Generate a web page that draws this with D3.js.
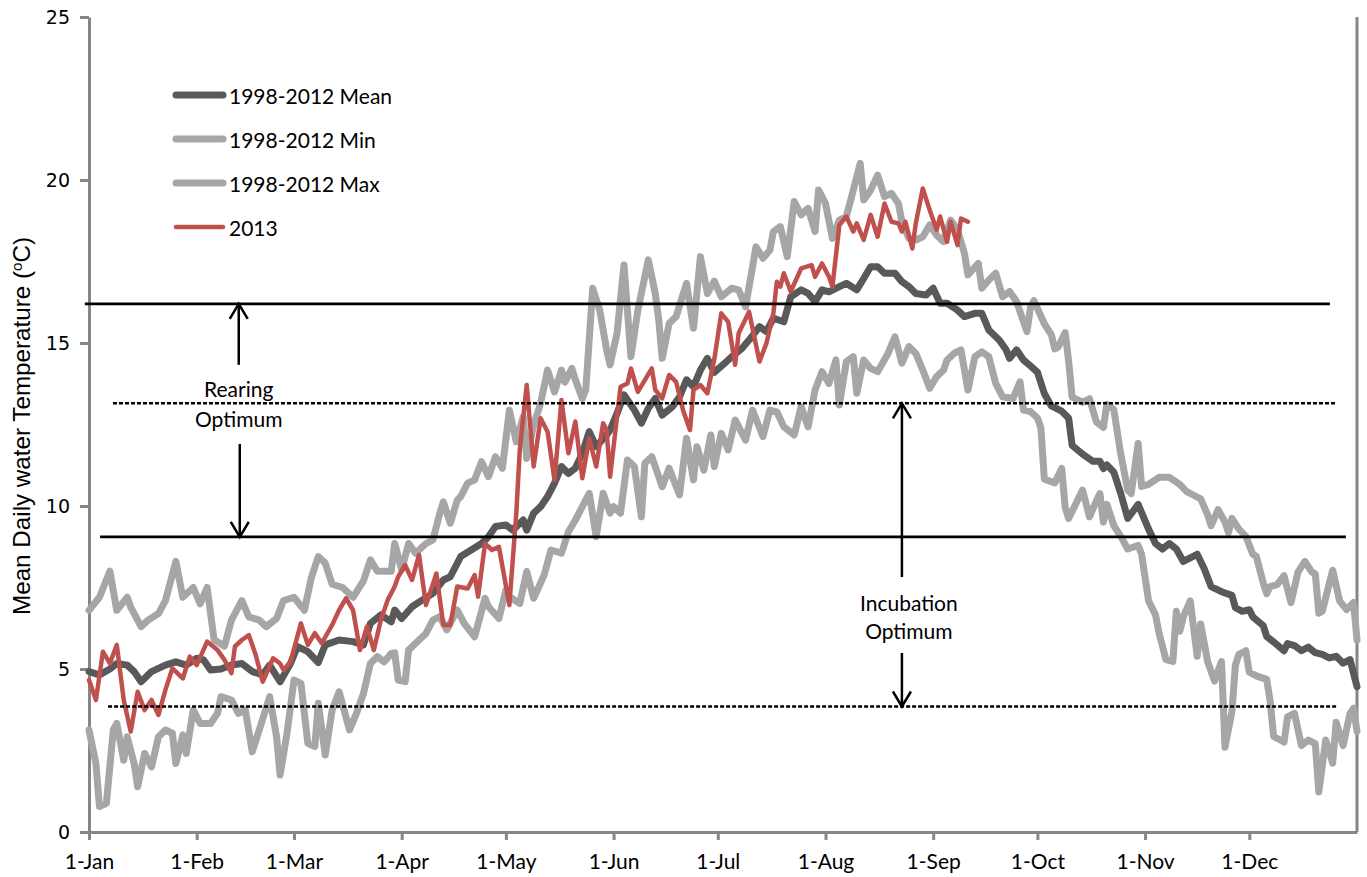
<!DOCTYPE html>
<html>
<head>
<meta charset="utf-8">
<script src="https://cdn.jsdelivr.net/npm/d3@7"></script>
<style>
  body { margin: 0; background: #fff; }
  svg { display: block; }
</style>
</head>
<body>
<svg id="chart" width="1367" height="877"></svg>
<script>
// Day-of-year positions of month starts and their labels
const monthDays = [0, 31, 59, 90, 120, 151, 181, 212, 243, 273, 304, 334];
const monthLabels = ["1-Jan", "1-Feb", "1-Mar", "1-Apr", "1-May", "1-Jun",
                     "1-Jul", "1-Aug", "1-Sep", "1-Oct", "1-Nov", "1-Dec"];
const tempTicks = [0, 5, 10, 15, 20, 25];

// Daily water temperature, [day of year, °C]
const mean9812 = [
  [0,4.92],[3,4.82],[6,5.0],[8,5.17],[11,5.12],[13,4.92],[15,4.61],[18,4.92],[22,5.12],[25,5.22],
  [28,5.12],[31,5.33],[33,5.28],[35,4.97],[38,5.0],[41,5.12],[44,5.17],[47,4.92],[50,4.82],[52,5.12],
  [55,4.61],[58,5.17],[60,5.69],[63,5.53],[66,5.2],[68,5.74],[72,5.89],[76,5.84],[79,5.74],[81,6.4],
  [84,6.66],[87,6.45],[88,6.81],[90,6.55],[93,6.91],[96,7.12],[99,7.32],[102,7.73],[104,7.83],[107,8.45],
  [110,8.65],[113,8.85],[115,9.06],[117,9.37],[120,9.42],[122,9.26],[125,9.57],[126,9.26],[128,9.78],[130,9.98],
  [132,10.29],[134,10.7],[136,11.21],[138,11.0],[140,11.16],[142,11.62],[144,12.28],[146,11.82],[149,12.18],[150,12.33],
  [152,12.84],[154,13.41],[157,12.94],[159,12.54],[161,13.0],[163,13.3],[165,12.79],[168,13.05],[170,13.35],[172,13.87],
  [174,13.66],[176,14.17],[178,14.53],[180,14.1],[183,14.38],[185,14.58],[188,14.84],[190,15.09],[193,15.5],[195,15.35],
  [197,15.76],[200,15.65],[202,16.42],[205,16.63],[207,16.52],[209,16.27],[211,16.63],[213,16.57],[216,16.73],[218,16.83],
  [221,16.63],[223,16.98],[225,17.34],[227,17.34],[229,17.14],[232,17.14],[234,16.88],[236,16.73],[238,16.52],[241,16.47],
  [243,16.68],[245,16.22],[247,16.22],[250,16.01],[252,15.81],[255,15.91],[257,15.91],[259,15.4],[262,15.09],[264,14.79],
  [265,14.53],[267,14.79],[269,14.48],[271,14.3],[273,14.11],[275,13.45],[277,13.07],[280,12.91],[282,12.69],[283,11.86],
  [286,11.59],[289,11.37],[291,11.37],[292,11.15],[293,11.26],[295,11.04],[297,10.38],[299,9.62],[302,10.05],[305,9.29],
  [307,8.85],[309,8.68],[311,8.85],[313,8.68],[315,8.3],[317,8.41],[319,8.52],[321,8.08],[323,7.53],[326,7.37],
  [329,7.26],[330,6.88],[332,6.77],[334,6.82],[335,6.6],[338,6.33],[339,6.0],[341,5.83],[344,5.56],[345,5.78],
  [347,5.72],[349,5.56],[351,5.67],[353,5.5],[355,5.45],[357,5.34],[359,5.39],[361,5.18],[363,5.29],[365,4.46]
];

const min9812 = [
  [0,3.13],[2,2.1],[3,0.78],[5,0.88],[7,3.13],[8,3.33],[10,2.2],[11,2.92],[13,2.1],[14,1.39],
  [16,2.41],[18,2.0],[20,2.92],[22,3.13],[24,3.03],[25,2.1],[27,2.98],[28,2.41],[30,3.74],[32,3.33],
  [35,3.33],[37,3.64],[38,4.15],[41,4.05],[43,3.64],[45,3.74],[47,2.46],[49,3.13],[52,4.15],[54,2.92],
  [55,1.75],[57,3.03],[59,4.66],[61,4.56],[63,2.72],[65,2.62],[66,3.95],[68,2.36],[70,3.74],[72,4.3],
  [75,3.13],[77,3.64],[79,4.25],[81,5.17],[83,5.38],[85,5.22],[87,5.48],[88,5.5],[89,4.66],[91,4.61],
  [92,5.58],[95,5.89],[97,6.09],[99,6.5],[101,6.61],[103,6.2],[106,6.81],[108,6.4],[111,5.99],[114,7.17],
  [115,6.91],[118,6.55],[120,7.42],[121,7.22],[124,7.01],[126,7.99],[128,7.17],[131,7.88],[133,8.65],[136,8.55],
  [138,9.21],[140,9.57],[142,9.98],[144,10.39],[146,9.06],[148,10.39],[150,9.78],[151,9.98],[153,9.78],[155,11.41],
  [157,11.21],[159,9.67],[160,11.31],[162,11.51],[164,10.9],[165,10.59],[167,11.16],[170,10.34],[172,12.08],[174,10.8],
  [175,11.82],[177,11.1],[179,12.18],[180,11.21],[182,12.23],[184,11.72],[186,12.64],[189,12.02],[191,12.94],[194,12.13],
  [196,12.94],[198,12.89],[200,12.43],[203,12.18],[205,13.05],[207,12.43],[209,13.56],[211,14.12],[213,13.76],[215,14.48],
  [216,13.1],[218,14.43],[220,14.58],[221,13.46],[223,14.48],[225,14.22],[227,14.12],[230,14.68],[232,15.19],[234,14.38],
  [236,14.89],[238,14.68],[240,14.17],[242,13.61],[244,13.97],[246,14.17],[247,14.48],[249,14.68],[251,14.79],[253,13.56],
  [255,14.58],[257,14.73],[259,14.58],[261,13.76],[263,13.35],[266,13.3],[268,13.81],[269,12.94],[271,12.9],[273,12.7],
  [274,12.4],[275,10.82],[278,10.71],[280,11.15],[281,9.95],[282,9.62],[284,10.05],[286,10.49],[288,9.67],[290,10.16],
  [291,10.38],[292,9.51],[293,10.05],[295,9.4],[297,9.07],[299,8.68],[302,8.79],[303,8.52],[305,7.09],[307,6.66],
  [308,6.11],[310,5.29],[312,5.23],[313,6.77],[314,6.16],[315,6.6],[317,7.09],[319,5.39],[320,6.38],[322,5.23],
  [324,4.63],[326,5.23],[327,2.6],[329,3.7],[330,5.12],[331,5.45],[333,5.56],[334,4.9],[336,4.79],[339,4.68],
  [340,4.02],[341,2.93],[344,2.76],[345,3.53],[347,3.64],[349,2.65],[351,2.82],[353,2.71],[354,1.23],[356,2.82],
  [357,2.49],[358,2.11],[359,3.37],[361,2.65],[363,3.64],[364,3.8],[365,3.09]
];

const max9812 = [
  [0,6.8],[3,7.2],[6,8.0],[8,6.8],[11,7.2],[12,6.9],[15,6.3],[17,6.5],[20,6.7],[22,7.1],
  [25,8.3],[27,7.2],[30,7.5],[32,7.0],[34,7.5],[36,5.9],[39,5.7],[41,6.5],[44,7.1],[46,6.6],
  [49,6.5],[51,6.3],[54,6.55],[56,7.1],[59,7.2],[62,6.8],[64,7.8],[66,8.45],[68,8.25],[70,7.6],
  [73,7.5],[76,7.2],[79,7.7],[81,8.35],[83,8.0],[87,8.0],[88,8.85],[90,8.04],[92,8.85],[94,8.55],
  [97,8.85],[99,8.96],[101,9.78],[102,10.13],[104,9.47],[106,10.18],[107,10.29],[109,10.7],[111,10.8],[113,11.36],
  [115,10.9],[117,11.51],[119,11.16],[121,12.94],[123,11.97],[125,12.74],[126,11.46],[128,12.48],[130,13.15],[132,14.17],
  [134,13.5],[136,14.17],[137,13.8],[139,14.22],[140,13.87],[142,13.3],[143,13.56],[145,16.68],[147,16.01],[149,14.79],
  [150,14.33],[152,15.3],[154,17.39],[156,14.58],[158,16.01],[161,17.55],[163,16.52],[164,15.71],[165,14.53],[167,15.6],
  [169,15.81],[172,16.83],[174,15.45],[176,17.65],[178,16.52],[180,16.9],[182,16.42],[185,16.68],[187,16.63],[189,16.11],
  [192,17.95],[194,17.6],[196,17.85],[197,18.42],[199,18.57],[201,17.65],[203,19.34],[205,18.93],[207,19.13],[209,18.42],
  [210,19.69],[212,19.28],[214,18.21],[216,18.77],[218,18.88],[220,19.69],[222,20.51],[223,19.39],[225,19.69],[227,20.15],
  [229,19.49],[231,19.59],[233,19.28],[234,18.72],[236,18.21],[238,18.16],[240,18.26],[242,18.62],[244,18.31],[246,18.11],
  [248,18.77],[250,18.47],[252,17.75],[253,17.09],[256,17.44],[257,16.68],[259,16.93],[261,17.14],[263,16.42],[265,16.58],
  [267,16.27],[270,15.35],[271,16.09],[272,16.3],[275,15.59],[277,15.26],[278,14.82],[279,14.88],[281,15.32],[282,14.44],
  [283,13.34],[286,13.18],[288,13.29],[290,12.58],[292,12.41],[293,13.12],[295,12.96],[297,11.59],[299,10.49],[300,10.38],
  [302,11.92],[303,10.6],[305,10.66],[308,10.88],[311,10.88],[314,10.66],[316,10.44],[318,10.33],[320,10.22],[322,9.73],
  [323,9.4],[325,9.89],[327,9.51],[328,9.18],[329,9.62],[331,9.29],[333,9.07],[335,8.52],[336,8.46],[338,7.64],
  [339,7.31],[340,7.53],[342,7.59],[344,7.86],[346,7.04],[348,7.97],[350,8.3],[352,7.97],[353,7.92],[354,6.71],
  [355,6.77],[358,8.03],[360,7.09],[362,6.82],[364,7.04],[365,5.89]
];

const temp2013 = [
  [0,4.66],[2,4.05],[4,5.53],[6,5.17],[8,5.74],[10,4.05],[12,3.08],[14,4.3],[16,3.74],[18,4.05],
  [20,3.59],[22,4.36],[24,5.02],[27,4.71],[29,5.38],[31,5.12],[34,5.84],[37,5.58],[39,5.28],[41,4.87],
  [42,5.69],[44,5.89],[46,6.04],[48,5.43],[50,4.61],[53,5.33],[55,5.17],[56,4.97],[58,5.22],[61,6.4],
  [63,5.74],[65,6.1],[67,5.79],[70,6.35],[72,6.81],[74,7.17],[76,6.81],[78,5.58],[80,6.3],[82,5.58],
  [84,6.5],[86,7.12],[88,7.53],[89,7.83],[91,8.19],[93,7.73],[95,8.5],[97,6.96],[100,7.93],[102,6.35],
  [104,6.35],[106,7.53],[109,7.47],[111,7.88],[112,7.22],[114,8.85],[116,8.65],[118,8.75],[121,6.96],[123,9.78],
  [124,11.72],[126,13.71],[128,11.21],[130,12.69],[132,12.28],[134,10.8],[136,13.25],[138,11.62],[140,12.59],[142,10.85],
  [144,12.08],[146,11.21],[148,12.54],[149,12.33],[150,10.9],[152,12.74],[153,13.66],[155,13.76],[156,14.22],[158,13.5],
  [162,14.22],[163,13.56],[165,13.3],[167,14.02],[169,13.81],[171,12.94],[173,12.33],[174,13.56],[176,13.71],[178,13.46],
  [180,14.5],[182,15.91],[184,15.65],[186,14.33],[187,15.3],[190,15.96],[193,14.43],[195,14.99],[197,15.91],[198,16.88],
  [199,16.73],[200,17.14],[202,16.58],[205,17.29],[208,17.39],[209,17.03],[211,17.44],[213,17.03],[214,16.73],[216,18.62],
  [218,18.88],[220,18.42],[221,18.67],[223,18.16],[225,18.93],[227,18.26],[229,19.28],[231,18.72],[233,18.67],[234,18.42],
  [235,18.72],[237,17.9],[238,18.67],[240,19.74],[242,19.08],[244,18.47],[245,18.88],[247,18.1],[248,18.72],[250,18.0],
  [251,18.82],[253,18.72]
];

// Optimum temperature bands (°C)
const rearingOptimum = [9.05, 16.2];
const incubationOptimum = [3.85, 13.15];

const legendNames = ["1998-2012 Mean", "1998-2012 Min", "1998-2012 Max", "2013"];

// ---- drawing ----
const svg = d3.select("#chart");
const x = d3.scaleLinear().domain([0, 365]).range([89, 1357]);
const y = d3.scaleLinear().domain([0, 25]).range([832, 17]);

const axisColor = "#868686";
const FONT = "Lato, 'Open Sans', sans-serif";

const seriesDefs = [
  { data: mean9812, color: "#595959", width: 7 },
  { data: min9812,  color: "#a6a6a6", width: 7 },
  { data: max9812,  color: "#a6a6a6", width: 7 },
  { data: temp2013, color: "#c0504d", width: 4.5 }
];

// Axes
const xAxis = d3.axisBottom(x)
  .tickValues(monthDays)
  .tickFormat((d, i) => monthLabels[i])
  .tickSizeInner(8).tickSizeOuter(0).tickPadding(14);
const gx = svg.append("g").attr("transform", `translate(0,${y(0)})`).call(xAxis);

const yAxis = d3.axisLeft(y)
  .tickValues(tempTicks)
  .tickSizeInner(9).tickSizeOuter(0).tickPadding(10);
const gy = svg.append("g").attr("transform", `translate(${x(0)},0)`).call(yAxis);

[gx, gy].forEach(g => {
  g.select(".domain").attr("stroke", axisColor).attr("stroke-width", 3);
  g.selectAll(".tick line").attr("stroke", axisColor).attr("stroke-width", 3);
  g.selectAll(".tick text").attr("fill", "#000").style("font-family", FONT).style("font-size", "21px");
});
gy.selectAll(".tick text").style("font-family", "'DejaVu Sans', sans-serif").style("font-size", "19px");

// right border of the plot area
svg.append("line")
  .attr("x1", x(365)).attr("x2", x(365))
  .attr("y1", y(25)).attr("y2", y(0))
  .attr("stroke", axisColor).attr("stroke-width", 3);

// Series lines
const line = d3.line().x(d => x(d[0])).y(d => y(d[1]));
svg.append("g").selectAll("path")
  .data(seriesDefs)
  .join("path")
  .attr("d", s => line(s.data))
  .attr("fill", "none")
  .attr("stroke", s => s.color)
  .attr("stroke-width", s => s.width)
  .attr("stroke-linejoin", "round")
  .attr("stroke-linecap", "round");

// Optimum boundary lines
const bands = [
  { v: rearingOptimum[1],    from: -1.2, to: 357.2, dashed: false },
  { v: rearingOptimum[0],    from: 3.2,  to: 361.8, dashed: false },
  { v: incubationOptimum[1], from: 6.9,  to: 358.9, dashed: true },
  { v: incubationOptimum[0], from: 5.5,  to: 359.2, dashed: true }
];
svg.append("g").selectAll("line")
  .data(bands)
  .join("line")
  .attr("x1", b => x(b.from)).attr("x2", b => x(b.to))
  .attr("y1", b => y(b.v)).attr("y2", b => y(b.v))
  .attr("stroke", "#000")
  .attr("stroke-width", b => b.dashed ? 2.5 : 2.7)
  .attr("stroke-dasharray", b => b.dashed ? "4,2" : null);

// Arrows and labels
function arrow(day, fromV, toV) {
  const ax = x(day), y0 = y(fromV), y1 = y(toV);
  const dir = y1 < y0 ? 1 : -1;
  const g = svg.append("g").attr("stroke", "#000").attr("stroke-width", 2.5).attr("fill", "none");
  g.append("line").attr("x1", ax).attr("x2", ax).attr("y1", y0).attr("y2", y1);
  g.append("path")
    .attr("d", `M${ax - 9},${y1 + dir * 15} L${ax},${y1} L${ax + 9},${y1 + dir * 15}`)
    .attr("stroke-linejoin", "miter");
}
arrow(43.1, 14.33, rearingOptimum[1]);
arrow(43.4, 11.9, rearingOptimum[0]);
arrow(234.0, 7.82, incubationOptimum[1]);
arrow(234.0, 5.49, incubationOptimum[0]);

const annot = svg.append("g")
  .style("font-family", FONT).style("font-size", "21px")
  .attr("text-anchor", "middle").attr("fill", "#000");
annot.append("text").attr("x", x(43.1)).attr("y", 397).text("Rearing");
annot.append("text").attr("x", x(43.1)).attr("y", 427).text("Optimum");
annot.append("text").attr("x", x(236)).attr("y", 611).text("Incubation");
annot.append("text").attr("x", x(236)).attr("y", 639).text("Optimum");

// Legend
const legend = svg.append("g");
const legendY = [95, 139, 183, 227];
legendNames.forEach((name, i) => {
  const s = seriesDefs[i];
  legend.append("line")
    .attr("x1", 176).attr("x2", 223)
    .attr("y1", legendY[i]).attr("y2", legendY[i])
    .attr("stroke", s.color).attr("stroke-width", s.width)
    .attr("stroke-linecap", "round");
  legend.append("text")
    .attr("x", 229).attr("y", legendY[i] + 9)
    .style("font-family", FONT).style("font-size", "21px")
    .text(name);
});

// Y axis title
const yt = svg.append("text")
  .attr("transform", "translate(30,426) rotate(-90)")
  .attr("text-anchor", "middle")
  .attr("textLength", 378)
  .attr("lengthAdjust", "spacingAndGlyphs")
  .style("font-family", "'Liberation Sans', Arial, sans-serif")
  .style("font-size", "24px");
yt.append("tspan").text("Mean Daily water Temperature  (");
yt.append("tspan").attr("dy", -8).style("font-size", "15px").text("o");
yt.append("tspan").attr("dy", 8).text("C)");
</script>
</body>
</html>
